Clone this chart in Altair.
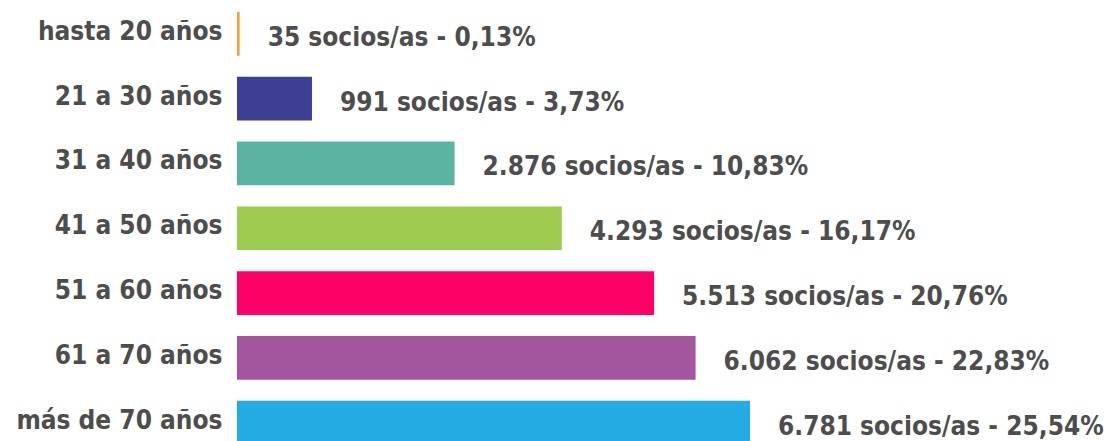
import altair as alt
import pandas as pd

categories = ["hasta 20 años", "21 a 30 años", "31 a 40 años", "41 a 50 años",
              "51 a 60 años", "61 a 70 años", "más de 70 años"]
socios = [35, 991, 2876, 4293, 5513, 6062, 6781]
porcentajes = [0.13, 3.73, 10.83, 16.17, 20.76, 22.83, 25.54]
colores = ["#F4A23A", "#3C3F92", "#5BB3A2", "#9DCB4F", "#FF0066", "#A3559E", "#22ACE3"]

def fmt_n(n):
    return f"{n:,}".replace(",", ".")

def fmt_p(p):
    return f"{p:.2f}".replace(".", ",")

df = pd.DataFrame({
    "edad": categories,
    "socios": socios,
    "pct": porcentajes,
    "label": [f"{fmt_n(n)} socios/as - {fmt_p(p)}%" for n, p in zip(socios, porcentajes)],
})

FONT = "DejaVu Sans Condensed"
TXT = "#4D4D4D"
FS = 26

y = alt.Y("edad:N", sort=categories, title=None,
          scale=alt.Scale(paddingInner=0.326, paddingOuter=0),
          axis=alt.Axis(domain=False, ticks=False, labelPadding=15,
                        labelFont=FONT, labelFontSize=FS, labelFontWeight="bold",
                        labelColor=TXT, labelLimit=300, labelBaseline="middle", labelOffset=-2))
x = alt.X("socios:Q", title=None, scale=alt.Scale(domain=[0, 11540]), axis=None)

bars = alt.Chart(df).mark_bar().encode(
    x=x, y=y,
    color=alt.Color("edad:N", scale=alt.Scale(domain=categories, range=colores), legend=None),
)

text = alt.Chart(df).mark_text(
    align="left", baseline="middle", dx=28, dy=4,
    font=FONT, fontSize=FS, fontWeight="bold", color=TXT,
).encode(x=x, y=alt.Y("edad:N", sort=categories), text="label:N")

chart = (bars + text).properties(
    width=873, height=432.5,
    autosize=alt.AutoSizeParams(type="none"),
    padding={"left": 229, "top": 4, "right": 0, "bottom": 0},
).configure_view(stroke=None)

chart.save("out.html", embed_options={"renderer": "svg", "actions": False})
